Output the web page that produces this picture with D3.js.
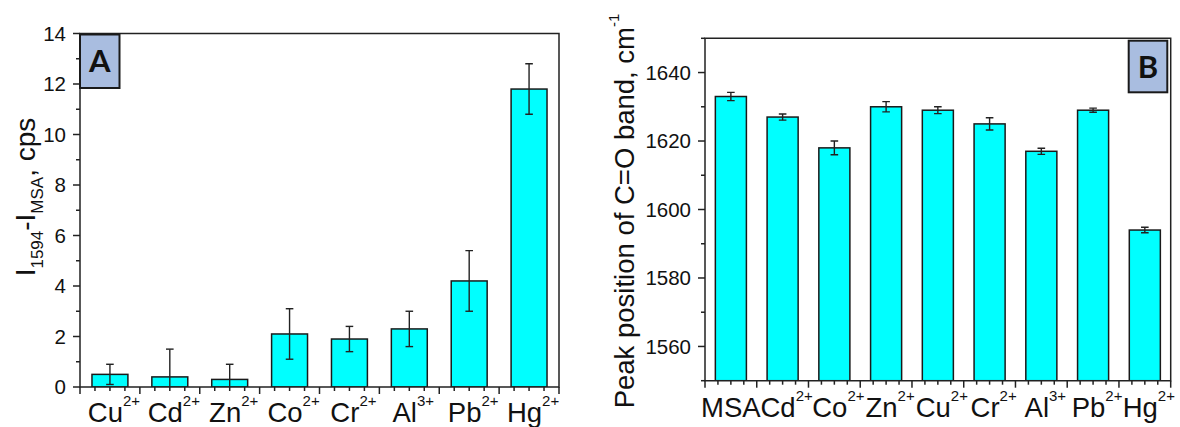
<!DOCTYPE html>
<html><head><meta charset="utf-8">
<script src="https://cdn.jsdelivr.net/npm/d3@7"></script>
<style>body{margin:0;background:#fff}svg{display:block}text{font-family:"Liberation Sans",Arial,sans-serif;fill:#111}</style>
</head><body><svg id="c" width="1180" height="427"></svg>
<script>
// Panel A data
const catsA = ["Cu","Cd","Zn","Co","Cr","Al","Pb","Hg"];
const chargeA = ["2+","2+","2+","2+","2+","3+","2+","2+"];
const valsA = [0.5,0.4,0.3,2.1,1.9,2.3,4.2,11.8];
const errA  = [0.4,1.1,0.6,1.0,0.5,0.7,1.2,1.0];
const ticksA = [0,2,4,6,8,10,12,14];
// Panel B data
const catsB = ["MSA","Cd","Co","Zn","Cu","Cr","Al","Pb","Hg"];
const chargeB = ["","2+","2+","2+","2+","2+","3+","2+","2+"];
const valsB = [1633,1627,1618,1630,1629,1625,1617,1629,1594];
const errB  = [1.2,0.9,2.0,1.5,1.0,1.8,0.9,0.6,0.8];
const ticksB = [1560,1580,1600,1620,1640];

const svg = d3.select("#c");

function panel(o){
  const g = svg.append("g");
  const x = d3.scaleBand().domain(o.cats).range([o.x0,o.x1]).paddingInner(0.4).paddingOuter(0.2);
  const y = d3.scaleLinear().domain(o.dom).range([o.y0,o.y1]);
  const id = "clip"+o.name;
  svg.append("clipPath").attr("id",id).append("rect")
    .attr("x",o.x0).attr("y",o.y1).attr("width",o.x1-o.x0).attr("height",o.y0-o.y1);
  const pg = g.append("g").attr("clip-path",`url(#${id})`);
  const data = o.cats.map((c,i)=>({c,v:o.vals[i],e:o.err[i]}));
  pg.selectAll("rect.bar").data(data).join("rect")
    .attr("x",d=>x(d.c)).attr("width",x.bandwidth())
    .attr("y",d=>y(d.v)).attr("height",d=>y(o.dom[0])-y(d.v))
    .attr("fill","#00FFFF").attr("stroke","#1a1a1a").attr("stroke-width",1.5);
  const cw = 3.8;
  const eg = pg.selectAll("g.err").data(data).join("g");
  eg.append("line").attr("x1",d=>x(d.c)+x.bandwidth()/2).attr("x2",d=>x(d.c)+x.bandwidth()/2)
    .attr("y1",d=>y(d.v-d.e)).attr("y2",d=>y(d.v+d.e));
  eg.append("line").attr("x1",d=>x(d.c)+x.bandwidth()/2-cw).attr("x2",d=>x(d.c)+x.bandwidth()/2+cw)
    .attr("y1",d=>y(d.v+d.e)).attr("y2",d=>y(d.v+d.e));
  eg.filter(d=>d.v-d.e>=o.dom[0]).append("line").attr("x1",d=>x(d.c)+x.bandwidth()/2-cw).attr("x2",d=>x(d.c)+x.bandwidth()/2+cw)
    .attr("y1",d=>y(d.v-d.e)).attr("y2",d=>y(d.v-d.e));
  eg.selectAll("line").attr("stroke","#222").attr("stroke-width",1.4);

  // frame
  g.append("path").attr("d",`M${o.x0},${o.y0}V${o.y1}H${o.x1}V${o.y0}Z`)
    .attr("fill","none").attr("stroke","#222").attr("stroke-width",1.5);
  // y axis ticks
  const minor = d3.range(o.dom[0], o.dom[1]+1e-9, o.minorStep);
  g.selectAll("line.ym").data(minor).join("line")
    .attr("x1",o.x0).attr("x2",d=>o.x0-(o.ticks.includes(d)?7:4))
    .attr("y1",d=>y(d)).attr("y2",d=>y(d)).attr("stroke","#222").attr("stroke-width",1.5);
  g.selectAll("text.yl").data(o.ticks).join("text")
    .attr("x",o.x0-14).attr("y",d=>y(d)).attr("dy","0.35em").attr("text-anchor","end")
    .attr("font-size",o.ytickSize).text(d=>d);
  // x axis ticks: category boundaries + quarter ticks
  const step = x.step(), n = o.cats.length;
  const xt = d3.range(0,n*4+1).map(i=>({p:o.x0+i*step/4,major:i%4===0}));
  g.selectAll("line.xt").data(xt).join("line")
    .attr("x1",d=>d.p).attr("x2",d=>d.p).attr("y1",o.y0).attr("y2",d=>o.y0+(d.major?7:4))
    .attr("stroke","#222").attr("stroke-width",1.5);
  // x labels
  const xl = g.selectAll("text.xl").data(o.cats.map((c,i)=>({c,s:o.charge[i]}))).join("text")
    .attr("x",d=>x(d.c)+x.bandwidth()/2+(d.s?4:0)).attr("y",o.xlabY).attr("text-anchor","middle")
    .attr("font-size",27.5);
  xl.append("tspan").text(d=>d.c);
  xl.filter(d=>d.s).append("tspan").attr("font-size",15).attr("dy",-16).text(d=>d.s);
  // label box
  g.append("rect").attr("x",o.box[0]).attr("y",o.box[1]).attr("width",o.box[2]).attr("height",o.box[3])
    .attr("fill","#A9BDE0").attr("stroke","#1a1a1a").attr("stroke-width",2);
  g.append("text").attr("x",o.box[0]+o.box[2]/2).attr("y",o.box[1]+o.box[3]/2+11).attr("text-anchor","middle")
    .attr("font-size",31).attr("font-weight","bold").style("font-family","Lato,'Open Sans',sans-serif").text(o.name);
  return {g,x,y};
}

panel({name:"A",cats:catsA,charge:chargeA,vals:valsA,err:errA,ticks:ticksA,dom:[0,14],minorStep:1,
  x0:80,x1:559,y0:387,y1:33.5,ytickSize:20.5,xlabY:422,box:[80,34.5,39.5,53.5]});
panel({name:"B",cats:catsB,charge:chargeB,vals:valsB,err:errB,ticks:ticksB,dom:[1550,1650],minorStep:10,
  x0:705,x1:1170.7,y0:380.7,y1:38.3,ytickSize:20.5,xlabY:417,box:[1128.7,40.7,38.6,51.6]});

// Y titles
const tA = svg.append("text").attr("transform","translate(35,197) rotate(-90)").attr("text-anchor","middle").attr("font-size",28);
tA.append("tspan").text("I");
tA.append("tspan").attr("font-size",17).attr("dy",8).text("1594");
tA.append("tspan").attr("dy",-8).text("-I");
tA.append("tspan").attr("font-size",17).attr("dy",8).text("MSA");
tA.append("tspan").attr("dy",-8).text(", cps");

const tB = svg.append("text").attr("transform","translate(634,211) rotate(-90)").attr("text-anchor","middle").attr("font-size",27.5);
tB.append("tspan").text("Peak position of C=O band, cm");
tB.append("tspan").attr("font-size",15).attr("dy",-15).text("-1");
</script></body></html>
